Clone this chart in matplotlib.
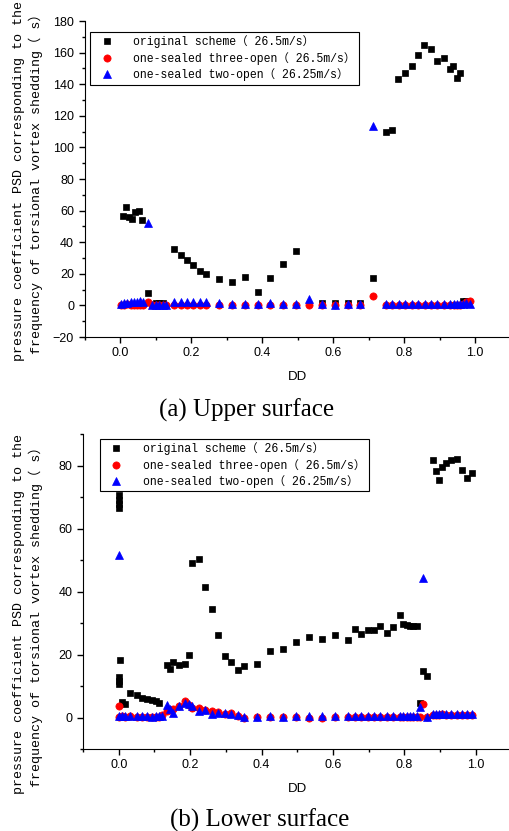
import matplotlib
matplotlib.use("Agg")
import matplotlib.pyplot as plt
from matplotlib.ticker import MultipleLocator

# ---- (a) upper surface ----
up_orig_x = [0.008, 0.018, 0.025, 0.035, 0.043, 0.054, 0.063, 0.08, 0.10, 0.11, 0.12,
             0.153, 0.171, 0.189, 0.207, 0.225, 0.242, 0.279, 0.315, 0.351, 0.388,
             0.423, 0.46, 0.497, 0.569, 0.605, 0.641, 0.677, 0.713, 0.749, 0.766,
             0.784, 0.803, 0.822, 0.839, 0.857, 0.875, 0.894, 0.912, 0.93, 0.939,
             0.948, 0.958, 0.967, 0.976]
up_orig_y = [56.5, 62, 56, 54.8, 59, 60, 54, 7.8, 1.5, 1.5, 1.5,
             35.4, 32, 28.6, 25.6, 22, 20.1, 16.7, 15, 18, 8.7,
             17.1, 26.2, 34.3, 1.5, 1.5, 1.5, 1.5, 17.6, 110, 110.9,
             143.3, 147.1, 151.3, 158.7, 164.9, 162.5, 154.9, 156.4, 149.6, 151.3,
             143.9, 147.1, 3.0, 2.5]

up_x = [0.003, 0.012, 0.021, 0.030, 0.039, 0.048, 0.057, 0.066, 0.08, 0.09, 0.10,
        0.11, 0.12, 0.13, 0.153, 0.171, 0.189, 0.207, 0.225, 0.242, 0.279, 0.315,
        0.351, 0.388, 0.423, 0.46, 0.497, 0.533, 0.569, 0.605, 0.641, 0.677, 0.713,
        0.749, 0.766, 0.785, 0.803, 0.822, 0.84, 0.858, 0.876, 0.894, 0.912, 0.93,
        0.94, 0.95, 0.958, 0.966, 0.976, 0.985]
up_three_y = [0.5, 0.3, 0.6, 0.2, 0.4, 0.5, 0.3, 0.4, 2.0, 0.3, 0.2,
              0.3, 0.2, 0.3, 0.4, 0.3, 0.2, 0.3, 0.2, 0.3, 0.2, 0.3,
              0.2, 0.3, 0.5, 0.3, 0.2, 0.0, 0.2, 0.2, 0.3, 0.3, 6.1,
              0.2, 0.1, 0.2, 0.1, 0.2, 0.1, 0.2, 0.1, 0.2, 0.2, 0.1,
              0.2, 0.2, 0.3, 1.0, 2.0, 2.5]
up_two_y = [1.2, 1.5, 1.8, 2.0, 2.2, 2.3, 2.5, 2.2, 52.3, 0.2, 0.1,
            0.2, 0.3, 0.5, 2.2, 2.4, 2.1, 2.0, 2.2, 2.3, 1.3, 1.0,
            1.2, 1.1, 1.4, 1.2, 1.0, 4.2, 0.6, 0.5, 0.6, 0.7, 113.7,
            1.0, 0.9, 1.0, 1.1, 1.0, 1.1, 1.0, 1.2, 1.1, 1.0, 1.2,
            1.1, 1.0, 1.2, 1.0, 1.3, 1.1]

# ---- (b) lower surface ----
lo_orig_x = [0, 0, 0, 0, 0, 0, 0, 0.004, 0.01, 0.019, 0.033, 0.05, 0.064, 0.079,
             0.094, 0.105, 0.113, 0.134, 0.143, 0.152, 0.168, 0.187, 0.196, 0.205,
             0.224, 0.242, 0.26, 0.279, 0.297, 0.315, 0.333, 0.351, 0.387, 0.424,
             0.46, 0.497, 0.533, 0.57, 0.605, 0.642, 0.661, 0.678, 0.697, 0.714,
             0.733, 0.752, 0.769, 0.787, 0.796, 0.806, 0.815, 0.824, 0.834, 0.843,
             0.852, 0.862, 0.88, 0.888, 0.896, 0.904, 0.916, 0.931, 0.947, 0.961,
             0.976, 0.989]
lo_orig_y = [70.5, 69, 67.8, 66.5, 12.8, 11.7, 10.7, 18.1, 4.9, 4.3, 7.8, 7.1, 6.2, 5.9,
             5.7, 5.2, 4.6, 16.7, 15.3, 17.5, 16.8, 17.0, 20.0, 49,
             50.4, 41.4, 34.6, 26.1, 19.4, 17.6, 15.0, 16.2, 17.0, 21.2,
             21.8, 24.1, 25.6, 24.9, 26.2, 24.6, 28.2, 26.6, 27.8, 27.8,
             29.2, 26.8, 28.6, 32.4, 29.7, 29.5, 29.2, 29.0, 28.9, 4.5,
             14.8, 13.3, 81.8, 78.1, 75.5, 79.5, 80.7, 81.6, 82.1, 78.6,
             76.1, 77.7]

lo_x = [0, 0, 0.01, 0.019, 0.033, 0.05, 0.064, 0.079, 0.094, 0.105, 0.113, 0.12,
        0.134, 0.143, 0.152, 0.168, 0.187, 0.196, 0.205, 0.224, 0.242, 0.26, 0.279,
        0.297, 0.315, 0.333, 0.351, 0.387, 0.424, 0.46, 0.497, 0.533, 0.57, 0.605,
        0.642, 0.661, 0.678, 0.697, 0.714, 0.733, 0.752, 0.769, 0.787, 0.796, 0.806,
        0.815, 0.824, 0.834, 0.843, 0.852, 0.862, 0.88, 0.888, 0.896, 0.904, 0.916,
        0.931, 0.947, 0.961, 0.976, 0.989]
lo_three_y = [3.5, 0.3, 0.5, 0.3, 0.4, 0.2, 0.3, 0.2, 0.1, 0.2, 0.3, 0.8,
              2.0, 2.5, 2.8, 3.5, 5.2, 4.0, 3.0, 3.0, 2.5, 2.2, 1.8,
              1.0, 1.5, 0.5, 0.0, 0.1, 0.2, 0.1, 0.1, 0.0, 0.0, 0.1,
              0.1, 0.2, 0.1, 0.1, 0.2, 0.1, 0.1, 0.2, 0.1, 0.1, 0.2,
              0.1, 0.1, 0.2, 0.3, 4.4, 0.2, 0.9, 0.8, 0.9, 1.0, 0.9,
              0.8, 0.9, 0.8, 0.9, 0.8]
lo_two_y = [51.6, 0.6, 0.5, 0.6, 0.4, 0.5, 0.4, 0.5, 0.3, 0.4, 0.5, 0.6,
            4.1, 2.8, 1.5, 3.5, 4.6, 4.2, 3.8, 2.1, 2.3, 1.1, 1.5,
            1.3, 1.0, 0.8, 0.3, 0.3, 0.4, 0.3, 0.4, 0.6, 0.6, 0.6,
            0.5, 0.6, 0.5, 0.6, 0.5, 0.6, 0.5, 0.6, 0.5, 0.6, 0.5,
            0.6, 0.5, 0.6, 3.3, 44.3, 0.3, 1.1, 1.2, 1.0, 1.1, 1.2,
            1.0, 1.1, 1.0, 1.1, 1.0]

labels = ["original scheme（ 26.5m/s）",
          "one-sealed three-open（ 26.5m/s）",
          "one-sealed two-open（ 26.25m/s）"]
ylab = "pressure coefficient PSD corresponding to the\nfrequency of torsional vortex shedding（ s）"

mono = ["Liberation Mono", "Noto Sans CJK SC"]
plt.rcParams["font.family"] = ["Liberation Sans"]

fig = plt.figure(figsize=(5.09, 8.31), dpi=100)
W, H = 509, 831


def make_axes(left, right, top, bottom):
    return fig.add_axes([left / W, 1 - bottom / H, (right - left) / W, (bottom - top) / H])


def draw(ax, ox, oy, x, y3, y2, ylim, leg_anchor):
    ax.plot(ox, oy, "s", color="black", ms=4.8, mew=0.5, label=labels[0])
    ax.plot(x, y3, "o", color="red", ms=5.2, mew=0.5, label=labels[1])
    ax.plot(x, y2, "^", color="blue", ms=5.6, mew=0.5, label=labels[2])
    ax.set_xlim(-0.1, 1.1)
    ax.set_ylim(*ylim)
    ax.spines["top"].set_visible(False)
    ax.spines["right"].set_visible(False)
    ax.xaxis.set_major_locator(MultipleLocator(0.2))
    ax.xaxis.set_minor_locator(MultipleLocator(0.1))
    ax.yaxis.set_major_locator(MultipleLocator(20))
    ax.yaxis.set_minor_locator(MultipleLocator(10))
    ax.set_xticks([0, 0.2, 0.4, 0.6, 0.8, 1.0])
    ax.xaxis.set_major_formatter(plt.FuncFormatter(lambda v, p: "%.1f" % v))
    ax.tick_params(which="major", direction="out", length=4, width=1, labelsize=9)
    ax.tick_params(which="minor", direction="out", length=2.5, width=1)
    ax.set_xlabel("DD", fontsize=9.5, labelpad=8)
    leg = ax.legend(loc="upper left", bbox_to_anchor=leg_anchor, borderaxespad=0,
                    prop={"family": mono, "size": 8.3}, fancybox=False,
                    edgecolor="black", framealpha=1, handletextpad=1.2,
                    borderpad=0.3, labelspacing=0.3, handlelength=2.2)
    leg.get_frame().set_linewidth(0.8)


ax1 = make_axes(84.5, 510.5, 21, 337)
draw(ax1, up_orig_x, up_orig_y, up_x, up_three_y, up_two_y, (-20, 180), (0.014, 0.965))

ax2 = make_axes(83, 511.5, 434, 749)
draw(ax2, lo_orig_x, lo_orig_y, lo_x, lo_three_y, lo_two_y, (-10, 90), (0.04, 0.984))

fig.text(28 / W, 1 - 181 / H, ylab, rotation=90, ha="center", va="center",
         family=mono, fontsize=9.6, multialignment="center", linespacing=1.25)
fig.text(28 / W, 1 - 614 / H, ylab, rotation=90, ha="center", va="center",
         family=mono, fontsize=9.6, multialignment="center", linespacing=1.25)

fig.text(247 / W, 1 - 410 / H, "(a) Upper surface", ha="center", va="center",
         family="Liberation Serif", fontsize=18)
fig.text(260 / W, 1 - 820 / H, "(b) Lower surface", ha="center", va="center",
         family="Liberation Serif", fontsize=18)

fig.savefig("out.png", dpi=100)
